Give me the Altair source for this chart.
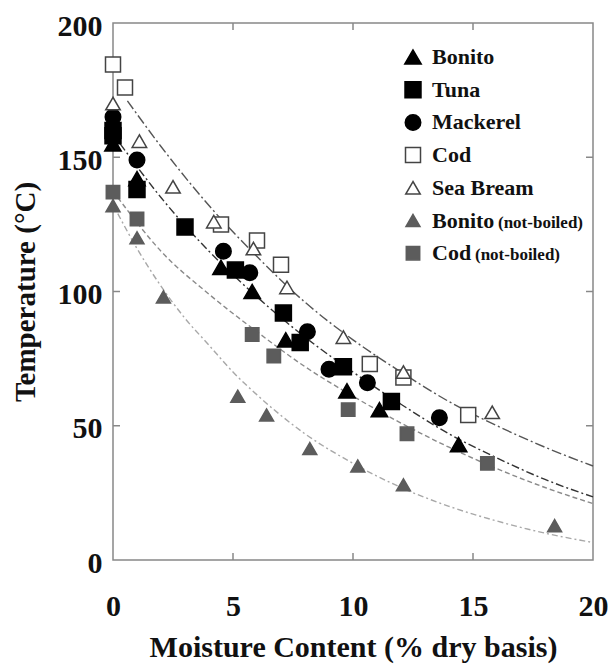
import altair as alt
import pandas as pd

FONT = "Liberation Serif"

series_names = ["Bonito", "Tuna", "Mackerel", "Cod", "Sea Bream",
                "Bonito (not-boiled)", "Cod (not-boiled)"]
legend_main = ["Bonito", "Tuna", "Mackerel", "Cod", "Sea Bream", "Bonito", "Cod"]
legend_suffix = ["", "", "", "", "", "(not-boiled)", "(not-boiled)"]

bonito_x = [0, 1.0, 4.5, 5.8, 7.2, 9.75, 11.1, 14.4]
bonito_y = [155, 142, 109, 100, 82, 63, 56, 43]
tuna_x = [0, 0, 1.0, 3.0, 5.1, 7.1, 7.8, 9.6, 11.6]
tuna_y = [160, 158, 138, 124, 108, 92, 81, 72, 59]
mackerel_x = [0, 1.0, 4.6, 5.7, 8.1, 9.0, 10.6, 13.6]
mackerel_y = [165, 149, 115, 107, 85, 71, 66, 53]
cod_x = [0, 0.5, 4.5, 6.0, 7.0, 10.7, 12.1, 14.8]
cod_y = [184.5, 176, 125, 119, 110, 73, 68, 54]
bream_x = [0, 1.1, 2.5, 4.2, 5.85, 7.25, 9.6, 12.1, 15.8]
bream_y = [170, 156, 139, 126, 116, 101.5, 83, 70, 55]
bonito_nb_x = [0, 1.0, 2.1, 5.2, 6.4, 8.2, 10.2, 12.1, 18.4]
bonito_nb_y = [132, 120, 98, 61, 54, 41.5, 35, 28, 12.8]
cod_nb_x = [0, 1.0, 5.8, 6.7, 9.8, 12.25, 15.6]
cod_nb_y = [137, 127, 84, 76, 56, 47, 36]

# fitted curves
curve_a_x = [0.6, 2, 4, 6, 8, 10, 12, 14, 16, 18, 20]
curve_a_y = [171, 154, 132, 113, 96, 82, 70, 59, 50, 42, 35]
curve_b_x = [0.3, 2, 4, 6, 8, 10, 12, 14, 16, 18, 20]
curve_b_y = [155, 135, 115, 98, 83, 70, 58, 47, 38, 30, 23.5]
curve_c_x = [0.2, 2, 4, 6, 8, 10, 12, 14, 16, 18, 20]
curve_c_y = [135, 115, 99, 85, 72, 61, 51, 42, 34, 27, 21]
curve_d_x = [0.2, 1, 2, 3, 4, 5, 6, 8, 10, 12, 14, 16, 18, 20]
curve_d_y = [129, 116, 102, 90, 80, 70, 61.5, 47, 36, 27, 20, 14.5, 10, 6.5]

x_ticks = [5, 10, 15]
y_ticks = [50, 100, 150]
x_labels = [0, 5, 10, 15, 20]
y_labels = [0, 50, 100, 150, 200]

W, H = 480, 537
XDOM = [0, 20]
YDOM = [0, 200]

pts_parts = []
for name, xs, ys in zip(series_names,
                        [bonito_x, tuna_x, mackerel_x, cod_x, bream_x, bonito_nb_x, cod_nb_x],
                        [bonito_y, tuna_y, mackerel_y, cod_y, bream_y, bonito_nb_y, cod_nb_y]):
    pts_parts.append(pd.DataFrame({"series": name, "x": xs, "y": ys}))
pts = pd.concat(pts_parts, ignore_index=True)

curve_ids = ["A", "B", "C", "D"]
cparts = []
for cid, xs, ys in zip(curve_ids, [curve_a_x, curve_b_x, curve_c_x, curve_d_x],
                       [curve_a_y, curve_b_y, curve_c_y, curve_d_y]):
    cparts.append(pd.DataFrame({"curve": cid, "x": xs, "y": ys}))
curves = pd.concat(cparts, ignore_index=True)

leg = pd.DataFrame({"series": series_names, "main": legend_main,
                    "suffix": legend_suffix, "idx": list(range(len(series_names)))})

xs_scale = alt.Scale(domain=XDOM, nice=False, zero=False)
ys_scale = alt.Scale(domain=YDOM, nice=False, zero=False)

X_AXIS = alt.Axis(values=x_labels, ticks=False, domain=False, grid=False, labelFlush=False,
                  title="Moisture Content (% dry basis)", labelPadding=31, titlePadding=11,
                  titleFontSize=30)
Y_AXIS = alt.Axis(values=y_labels, ticks=False, domain=False, grid=False, labelFlush=False,
                  labelOffset=3, title="Temperature (°C)", labelPadding=11, titlePadding=17,
                  titleFontSize=29)


def X(field):
    return alt.X(field, scale=xs_scale, axis=X_AXIS)


def Y(field):
    return alt.Y(field, scale=ys_scale, axis=Y_AXIS)


shape_scale = alt.Scale(domain=series_names,
                        range=["triangle-up", "square", "circle", "square",
                               "triangle-up", "triangle-up", "square"])
GRAY = "#5c5c5c"
fill_scale = alt.Scale(domain=series_names,
                       range=["#000000", "#000000", "#000000", "#ffffff", "#ffffff", GRAY, GRAY])
stroke_scale = alt.Scale(domain=series_names,
                         range=["#000000", "#000000", "#000000", "#444444", "#444444", GRAY, GRAY])
size_scale = alt.Scale(domain=series_names,
                       range=[270, 180, 180, 180, 270, 270, 180])

curve_lines = alt.Chart(curves).mark_line(interpolate="monotone", strokeWidth=1.4).encode(
    x=X("x:Q"),
    y=Y("y:Q"),
    detail="curve:N",
    color=alt.Color("curve:N", scale=alt.Scale(domain=curve_ids,
                                               range=["#555555", "#333333", "#8a8a8a", "#a8a8a8"]),
                    legend=None),
    strokeDash=alt.StrokeDash("curve:N", scale=alt.Scale(domain=curve_ids,
                                                         range=[[10, 3, 2, 3], [8, 3, 2, 3], [5, 3], [6, 3, 2, 3]]),
                              legend=None),
)

points = alt.Chart(pts).mark_point(strokeWidth=1.5, opacity=1, fillOpacity=1).encode(
    x=X("x:Q"),
    y=Y("y:Q"),
    shape=alt.Shape("series:N", scale=shape_scale, legend=None),
    fill=alt.Fill("series:N", scale=fill_scale, legend=None),
    stroke=alt.Stroke("series:N", scale=stroke_scale, legend=None),
    size=alt.Size("series:N", scale=size_scale, legend=None),
)

TICK = "#888888"
xt = pd.DataFrame({"x": x_ticks})
yt = pd.DataFrame({"y": y_ticks})
tick_bottom = alt.Chart(xt).mark_rule(color=TICK, strokeWidth=1.5).encode(
    x=X("x:Q"), y=alt.value(H), y2=alt.value(H - 7))
tick_top = alt.Chart(xt).mark_rule(color=TICK, strokeWidth=1.5).encode(
    x=X("x:Q"), y=alt.value(0), y2=alt.value(7))
tick_left = alt.Chart(yt).mark_rule(color=TICK, strokeWidth=1.5).encode(
    y=Y("y:Q"), x=alt.value(0), x2=alt.value(7))
tick_right = alt.Chart(yt).mark_rule(color=TICK, strokeWidth=1.5).encode(
    y=Y("y:Q"), x=alt.value(W), x2=alt.value(W - 7))

leg_base = alt.Chart(leg).transform_calculate(
    y="200 - (34 + 32.7 * datum.idx) / 2.685")
leg_pts = leg_base.mark_point(strokeWidth=1.5, opacity=1, fillOpacity=1).encode(
    x=alt.value(300),
    y=Y("y:Q"),
    shape=alt.Shape("series:N", scale=shape_scale, legend=None),
    fill=alt.Fill("series:N", scale=fill_scale, legend=None),
    stroke=alt.Stroke("series:N", scale=stroke_scale, legend=None),
    size=alt.Size("series:N", scale=size_scale, legend=None),
)
leg_txt = leg_base.mark_text(align="left", baseline="alphabetic", dy=7, font=FONT,
                             fontWeight="bold", fontSize=22, color="#111111").encode(
    x=alt.value(319), y=Y("y:Q"), text="main:N")
leg_suf1 = leg_base.transform_filter("datum.idx == 5").mark_text(
    align="left", baseline="alphabetic", dy=7, font=FONT, fontWeight="bold", fontSize=17,
    color="#111111").encode(x=alt.value(385), y=Y("y:Q"), text="suffix:N")
leg_suf2 = leg_base.transform_filter("datum.idx == 6").mark_text(
    align="left", baseline="alphabetic", dy=7, font=FONT, fontWeight="bold", fontSize=17,
    color="#111111").encode(x=alt.value(362), y=Y("y:Q"), text="suffix:N")

chart = alt.layer(
    curve_lines, tick_bottom, tick_top, tick_left, tick_right, points,
    leg_pts, leg_txt, leg_suf1, leg_suf2
).properties(
    width=W, height=H,
    autosize=alt.AutoSizeParams(type="none"),
    padding={"left": 113, "top": 23, "right": 18, "bottom": 105},
    background="white",
).configure_view(
    stroke="#888888", strokeWidth=1.5
).configure_axis(
    labelFont=FONT, labelFontWeight="bold", labelFontSize=30, labelColor="#111111",
    titleFont=FONT, titleFontWeight="bold", titleColor="#111111",
)

chart.save("out.html", embed_options={"renderer": "svg", "actions": False})
